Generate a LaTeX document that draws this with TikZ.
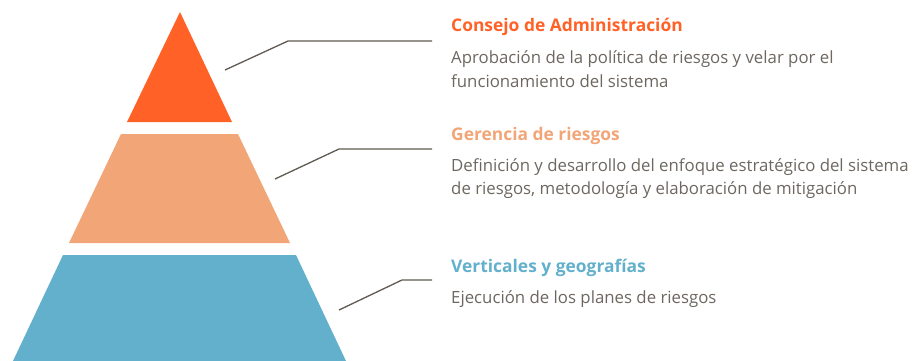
\documentclass[tikz,border=0pt]{standalone}
\usepackage{fontspec}
\setmainfont{Open Sans}
\definecolor{consejo}{HTML}{FF6126}
\definecolor{gerencia}{HTML}{F2A577}
\definecolor{vertical}{HTML}{62B0CC}
\definecolor{texto}{HTML}{6D6760}
\definecolor{guia}{HTML}{5F5A52}
\begin{document}
\begin{tikzpicture}[x=1pt,y=-1pt]
\tikzstyle{every node}+=[inner sep=0pt, anchor=base west]
\tikzstyle{titulo}=[font=\fontsize{17.4}{20}\selectfont\bfseries]
\tikzstyle{cuerpo}=[font=\fontsize{16.8}{20}\selectfont, text=texto]
\tikzstyle{leader}=[guia, line width=1.3pt]
\useasboundingbox (0,0) rectangle (912,361);
% piramide
\fill [consejo] (180,12) -- (232,122) -- (127,122) -- cycle;
\fill [gerencia] (121,134) -- (238,134) -- (290,243) -- (69,243) -- cycle;
\fill [vertical] (63,255) -- (296,255) -- (346,361) -- (13,361) -- cycle;
% textos
\node [titulo, text=consejo] (t1) at (451,31.5) {Consejo de Administración};
\node [cuerpo] (d1a) at (451,63.5) {Aprobación de la política de riesgos y velar por el};
\node [cuerpo] (d1b) at (451,87.5) {funcionamiento del sistema};
\node [titulo, text=gerencia] (t2) at (451,140.5) {Gerencia de riesgos};
\node [cuerpo] (d2a) at (451,171.5) {Definición y desarrollo del enfoque estratégico del sistema};
\node [cuerpo] (d2b) at (451,194.5) {de riesgos, metodología y elaboración de mitigación};
\node [titulo, text=vertical] (t3) at (451,272.3) {Verticales y geografías};
\node [cuerpo] (d3) at (451,303.3) {Ejecución de los planes de riesgos};
% lineas guia
\coordinate (p1) at (225,70);
\coordinate (p2) at (275,179);
\coordinate (p3) at (339,310);
\coordinate (e1) at (432,41);
\coordinate (e2) at (432,149);
\coordinate (e3) at (432,280);
\draw [leader] (p1) -- (288,41) -- (e1);
\draw [leader] (p2) -- (339,149) -- (e2);
\draw [leader] (p3) -- (402,280) -- (e3);
\end{tikzpicture}
\end{document}
